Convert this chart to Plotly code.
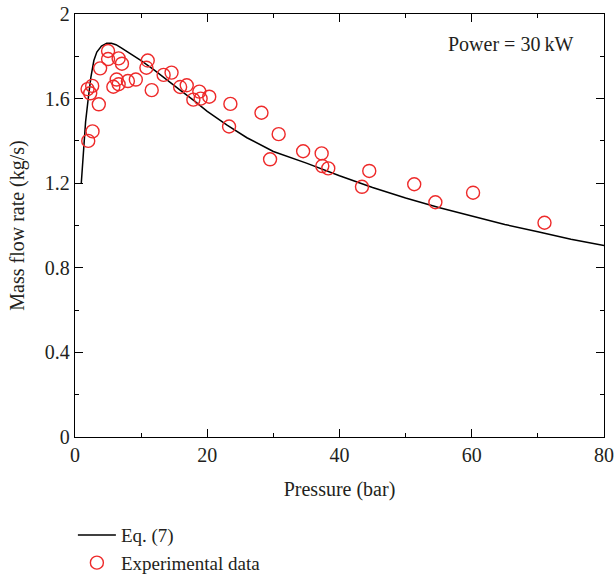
import plotly.graph_objects as go

# Eq. (7) curve
eq_x = [0.95, 1.3, 1.6, 2.0, 2.4, 2.85, 3.3, 4.0, 4.8, 5.5, 6.2, 7.0, 8.0, 9.0, 10.0,
        12.0, 14.0, 16.0, 18.0, 20.0, 23.0, 26.0, 30.0, 35.0, 40.0, 45.0, 50.0,
        55.0, 60.0, 65.0, 70.0, 75.0, 80.0]
eq_y = [1.20, 1.36, 1.49, 1.60, 1.70, 1.78, 1.82, 1.848, 1.862, 1.862, 1.855, 1.84, 1.82, 1.80, 1.78,
        1.735, 1.685, 1.638, 1.59, 1.54, 1.475, 1.415, 1.35, 1.295, 1.235, 1.18, 1.13,
        1.085, 1.045, 1.005, 0.97, 0.935, 0.905]

# Experimental data
exp_x = [2.0, 2.65, 1.9, 2.3, 2.6, 3.6, 3.8, 5.0, 5.0, 6.6, 7.1, 5.8, 6.3, 6.6, 8.0, 9.2,
         11.0, 10.8, 11.6, 13.4, 14.6, 15.9, 16.9, 17.9, 18.8, 19.0, 20.3,
         23.5, 23.3, 28.2, 30.8, 29.5, 34.5, 37.3, 37.4, 38.3, 44.5, 43.4,
         51.3, 54.5, 60.2, 71.0]
exp_y = [1.40, 1.445, 1.645, 1.625, 1.66, 1.573, 1.743, 1.825, 1.787, 1.79, 1.765, 1.656, 1.69, 1.668, 1.683, 1.69,
         1.78, 1.746, 1.64, 1.712, 1.723, 1.655, 1.663, 1.595, 1.633, 1.60, 1.609,
         1.575, 1.468, 1.533, 1.432, 1.313, 1.351, 1.341, 1.281, 1.27, 1.258, 1.183,
         1.195, 1.11, 1.155, 1.013]

x_ticks = [0, 20, 40, 60, 80]
y_ticks = [0, 0.4, 0.8, 1.2, 1.6, 2.0]
y_labels = ["0", "0.4", "0.8", "1.2", "1.6", "2"]

FONT = "Liberation Serif"
TXT = "#231f20"
FS = 20

fig = go.Figure()
fig.add_trace(go.Scatter(x=eq_x, y=eq_y, mode="lines", name="Eq. (7)",
                         line=dict(color="black", width=1.5)))
fig.add_trace(go.Scatter(x=exp_x, y=exp_y, mode="markers", name="Experimental data",
                         marker=dict(symbol="circle-open", size=13,
                                     color="#ee2a2a", line=dict(width=1.4, color="#ee2a2a"))))

axis_common = dict(showgrid=False, zeroline=False, showline=True, linecolor="black",
                   linewidth=1.3, mirror="ticks", ticks="inside", ticklen=8,
                   tickwidth=1.2, tickcolor="black", automargin=False,
                   tickfont=dict(family=FONT, size=FS, color=TXT))

fig.update_xaxes(range=[0, 80], tickvals=x_ticks,
                 minor=dict(dtick=10, ticklen=4, ticks="inside", tickcolor="black", tickwidth=1.2),
                 title=dict(text="Pressure (bar)", font=dict(family=FONT, size=FS, color=TXT), standoff=16),
                 **axis_common)
fig.update_yaxes(range=[0, 2], tickvals=y_ticks, ticktext=y_labels,
                 minor=dict(dtick=0.2, ticklen=4, ticks="inside", tickcolor="black", tickwidth=1.2),
                 title=dict(text="Mass flow rate (kg/s)", font=dict(family=FONT, size=FS, color=TXT), standoff=14),
                 **axis_common)

fig.add_annotation(text="Power = 30\u2009kW", xref="paper", yref="paper", x=0.945, y=0.929,
                   xanchor="right", yanchor="middle", showarrow=False,
                   font=dict(family=FONT, size=FS, color=TXT))

fig.update_layout(
    width=616, height=577,
    margin=dict(l=75, r=12, t=14, b=140, autoexpand=False),
    plot_bgcolor="white", paper_bgcolor="white",
    font=dict(family=FONT, size=FS, color=TXT),
    legend=dict(x=-0.004, y=-0.187, xanchor="left", yanchor="top",
                font=dict(family=FONT, size=19, color=TXT),
                bgcolor="rgba(0,0,0,0)", tracegroupgap=0, itemwidth=38),
    showlegend=True,
)

fig.write_html("out.html")
